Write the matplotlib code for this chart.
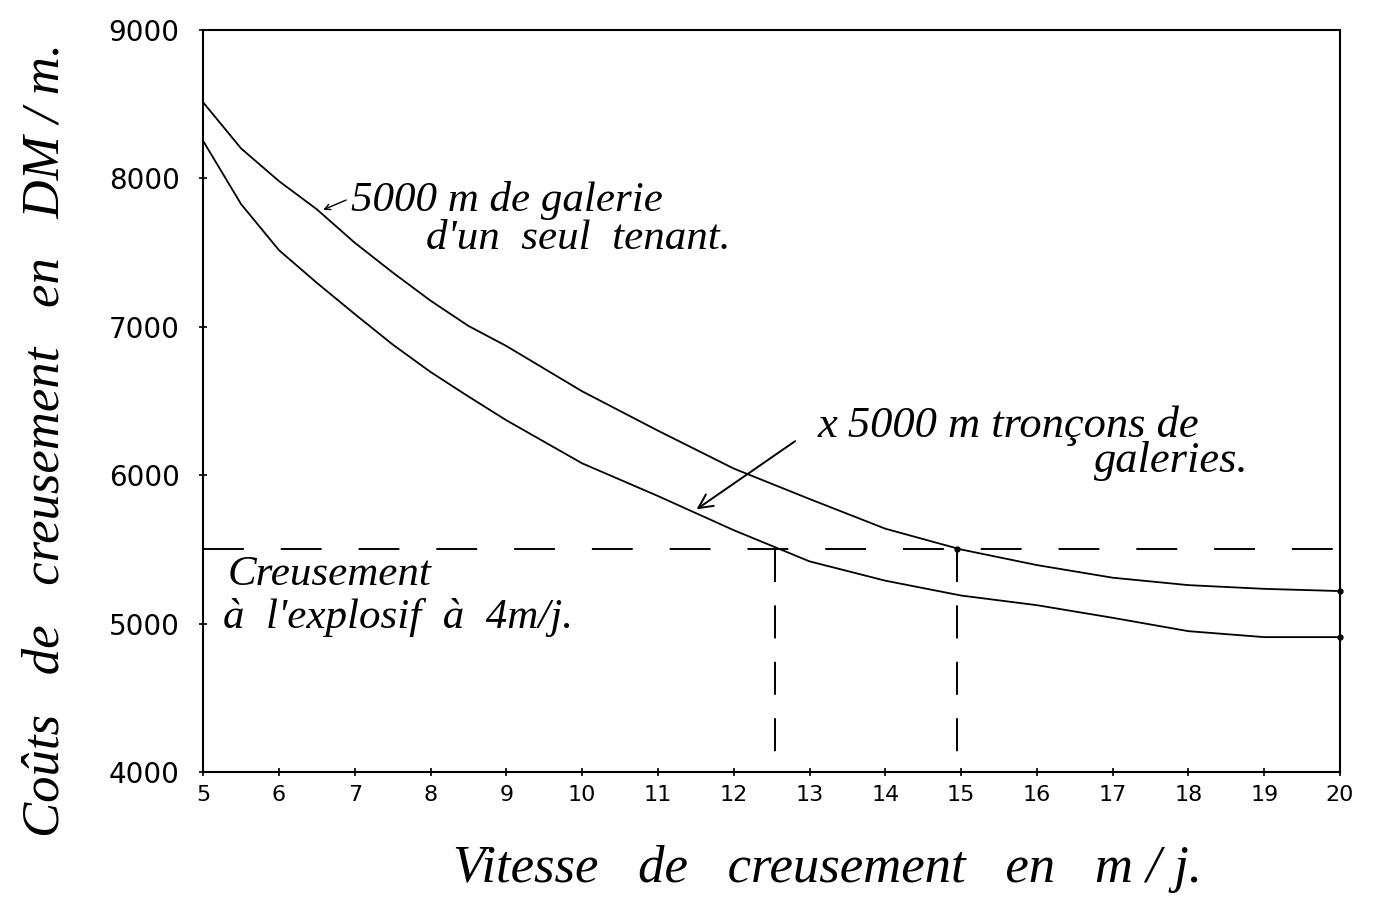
import matplotlib
matplotlib.use("Agg")
import matplotlib.pyplot as plt

# données (vitesse en m/j, coûts en DM/m)
vitesse = [5, 5.5, 6, 6.5, 7, 7.5, 8, 8.5, 9, 10, 11, 12, 13, 14, 15, 16, 17, 18, 19, 20]
cout_seul_tenant = [8510, 8200, 7980, 7790, 7565, 7365, 7175, 7005, 6870, 6565, 6300,
                    6045, 5840, 5640, 5500, 5395, 5310, 5260, 5235, 5220]
cout_troncons = [8250, 7825, 7515, 7295, 7085, 6880, 6695, 6530, 6370, 6080, 5860,
                 5630, 5420, 5290, 5190, 5125, 5040, 4950, 4910, 4910]

cout_explosif = 5500            # creusement à l'explosif à 4 m/j
vitesse_egale = [12.55, 14.95]  # vitesses où les coûts égalent l'explosif

x_ticks = list(range(5, 21))
y_ticks = [4000, 5000, 6000, 7000, 8000, 9000]

fig = plt.figure(figsize=(13.73, 8.98), dpi=100)
ax = fig.add_axes([0.148, 0.140, 0.828, 0.827])

ax.plot(vitesse, cout_seul_tenant, color="black", lw=1.3)
ax.plot(vitesse, cout_troncons, color="black", lw=1.3)
ax.plot([20, 20], [cout_seul_tenant[-1], cout_troncons[-1]], "o", color="black",
        ms=3.5, clip_on=False)

# lignes de référence en tirets
ax.plot([5, 20.05], [cout_explosif, cout_explosif], color="black", lw=1.4,
        dashes=(21, 19), clip_on=False)
for v in vitesse_egale:
    ax.plot([v, v], [cout_explosif, 4000], color="black", lw=1.4, dashes=(17, 12))
ax.plot(vitesse_egale[1], cout_explosif, "o", color="black", ms=3.5)

ax.set_xlim(5, 20)
ax.set_ylim(4000, 9000)
for s in ax.spines.values():
    s.set_linewidth(1.5)

ax.set_xticks(x_ticks)
ax.set_xticklabels([str(t) for t in x_ticks], fontsize=16)
ax.set_yticks(y_ticks)
ax.set_yticklabels([str(t) for t in y_ticks], fontsize=20)
ax.tick_params(axis="x", direction="inout", length=6, width=1.2, pad=6)
ax.tick_params(axis="y", direction="inout", length=6, width=1.2, pad=14)

txt = dict(family="Liberation Serif", style="italic", color="black")

# annotation courbe supérieure
ax.annotate("", xy=(6.55, 7780), xytext=(6.92, 7860),
            arrowprops=dict(arrowstyle="->", color="black", lw=1.0))
ax.text(6.95, 7850, "5000 m de galerie", fontsize=31, va="center", ha="left", **txt)
ax.text(7.94, 7590, "d'un  seul  tenant.", fontsize=31, va="center", ha="left", **txt)

# annotation courbe inférieure
ax.annotate("", xy=(11.48, 5760), xytext=(12.84, 6240),
            arrowprops=dict(arrowstyle="->", color="black", lw=1.4, mutation_scale=25))
ax.text(13.1, 6330, "x 5000 m tronçons de", fontsize=32, va="center", ha="left", **txt)
ax.text(16.75, 6095, "galeries.", fontsize=32, va="center", ha="left", **txt)

# explosif
ax.text(5.32, 5330, "Creusement", fontsize=31, va="center", ha="left", **txt)
ax.text(5.26, 5045, "à  l'explosif  à  4m/j.", fontsize=31, va="center", ha="left", **txt)

fig.text(0.033, 0.51, "Coûts   de   creusement   en   DM / m.", rotation=90,
         ha="center", va="center", fontsize=38, **txt)
fig.text(0.603, 0.032, "Vitesse   de   creusement   en   m / j.",
         ha="center", va="center", fontsize=38, **txt)

fig.savefig("out.png", dpi=100)
